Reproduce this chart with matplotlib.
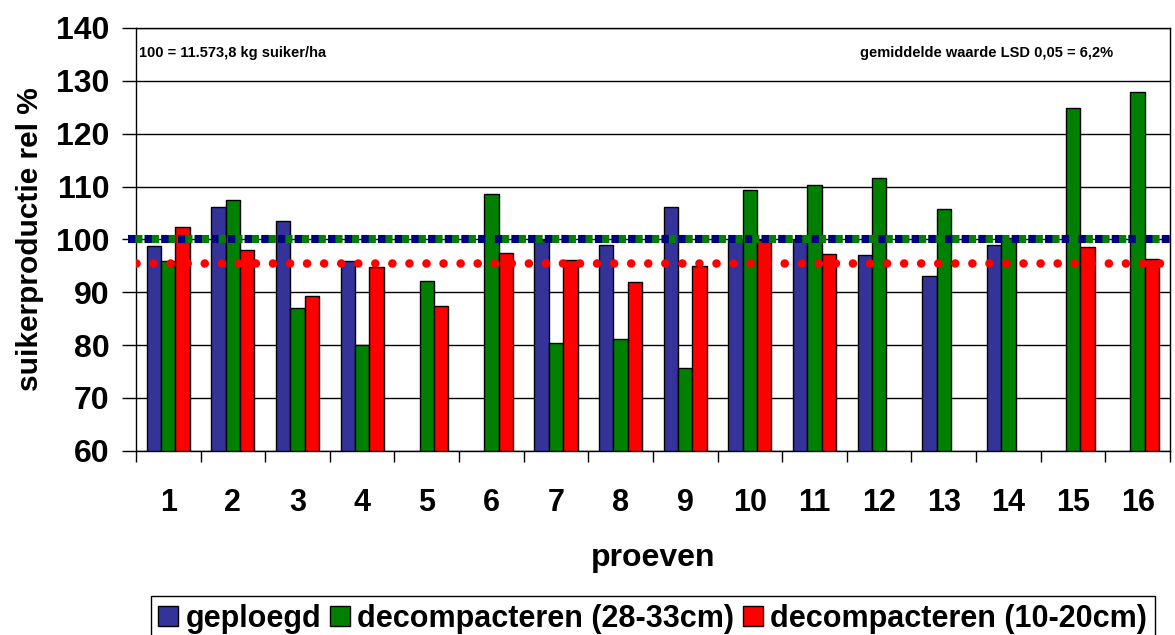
import numpy as np
import matplotlib.pyplot as plt

plt.rcParams['font.family'] = ['Liberation Sans', 'DejaVu Sans']
plt.rcParams['font.weight'] = 'bold'

# data
proeven = [str(i) for i in range(1, 17)]
geploegd = [98.7, 106.1, 103.4, 95.9, np.nan, np.nan, 99.8, 98.9, 106.2, 99.9, 99.9, 97.1, 93.1, 99.0, np.nan, np.nan]
decomp_diep = [96.0, 107.5, 87.0, 80.1, 92.1, 108.5, 80.4, 81.2, 75.6, 109.3, 110.2, 111.6, 105.8, 100.3, 124.9, 127.8]
decomp_ondiep = [102.3, 98.0, 89.3, 94.8, 87.4, 97.4, 96.1, 91.9, 94.9, 99.8, 97.2, np.nan, np.nan, np.nan, 98.5, 96.2]
ref_100 = 100
lsd_line = 95.6

labels = ['geploegd', 'decompacteren (28-33cm)', 'decompacteren (10-20cm)']
colors = ['#333399', '#008000', '#FF0000']

fig = plt.figure(figsize=(11.75, 6.35), dpi=100)
ax = fig.add_axes([0.1157, 0.290, 0.8800, 0.6660])

x = np.arange(1, 17)
w = 0.222
series = [geploegd, decomp_diep, decomp_ondiep]
for k, vals in enumerate(series):
    ax.bar(x + (k - 1) * w, np.array(vals) - 60, w, bottom=60, color=colors[k],
           edgecolor='black', linewidth=1, label=labels[k], zorder=3)

# reference lines (100 % and mean LSD level)
ax.axhline(ref_100, xmin=-0.008, color='#008000', lw=5.8, linestyle=(0, (1.79, 0.28)),
           zorder=4, clip_on=False)
ax.axhline(ref_100, xmin=-0.008, color='#000080', lw=5.8, linestyle=(0, (0.9, 1.17)),
           zorder=5, clip_on=False)
ax.axhline(lsd_line, color='#FF0000', lw=6.2, linestyle=(0, (0.001, 1.98)),
           dash_capstyle='round', zorder=5)

ax.set_ylim(60, 140)
ax.set_xlim(0.5, 16.5)
ax.set_yticks(range(60, 141, 10))
ax.yaxis.grid(True, color='black', lw=1, zorder=0)
ax.set_axisbelow(True)
ax.tick_params(axis='y', labelsize=23, length=10, width=1, pad=9)
for t in ax.get_yticklabels():
    t.set_fontweight('bold')

ax.set_xticks(x)
ax.set_xticklabels(proeven, fontsize=22, fontweight='bold')
ax.tick_params(axis='x', length=0, pad=27)
ax.set_xticks(np.arange(0.5, 17, 1), minor=True)
ax.tick_params(axis='x', which='minor', length=8, width=1)

for s in ax.spines.values():
    s.set_linewidth(1)
    s.set_color('black')

ax.set_xlabel('proeven', fontsize=23, fontweight='bold', labelpad=18)
ax.set_ylabel('suikerproductie rel %', fontsize=21.5, fontweight='bold')
ax.yaxis.set_label_coords(-0.089, 0.5)

ax.text(0.003, 0.94, '100 = 11.573,8 kg suiker/ha', transform=ax.transAxes,
        fontsize=10.5, fontweight='bold', va='center', ha='left')
ax.text(0.70, 0.94, 'gemiddelde waarde LSD 0,05 = 6,2%', transform=ax.transAxes,
        fontsize=10.5, fontweight='bold', va='center', ha='left')

leg = fig.legend(loc='upper center', bbox_to_anchor=(0.5555, 0.0614), ncol=3,
                 prop={'size': 22, 'weight': 'bold'}, handlelength=0.65,
                 handleheight=0.65, handletextpad=0.23, columnspacing=0.3,
                 borderpad=0.25, borderaxespad=0, fancybox=False,
                 edgecolor='black', framealpha=1)
leg.get_frame().set_linewidth(1)

fig.savefig('out.png', dpi=100)
